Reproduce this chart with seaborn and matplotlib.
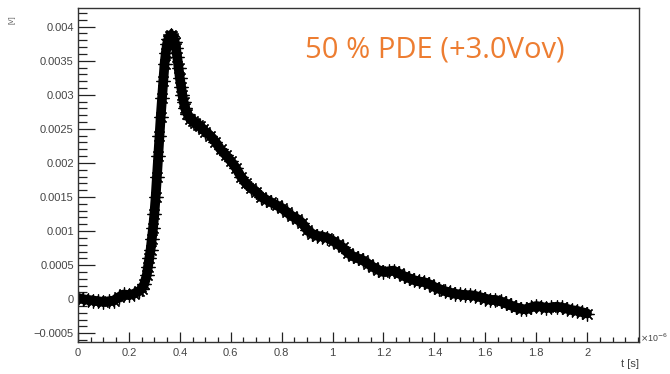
import numpy as np
import pandas as pd
import matplotlib
matplotlib.use("Agg")
import matplotlib.pyplot as plt
import seaborn as sns
from matplotlib.ticker import MultipleLocator

# waveform (time in units of 1e-6 s, amplitude)
t_us = [
    0.00, 0.02, 0.04, 0.06, 0.08, 0.10, 0.12, 0.14, 0.16, 0.18,
    0.20, 0.22, 0.24, 0.25, 0.26, 0.27, 0.275, 0.28, 0.285, 0.29,
    0.295, 0.30, 0.305, 0.31, 0.315, 0.32, 0.325, 0.33, 0.335, 0.34,
    0.345, 0.35, 0.355, 0.36, 0.365, 0.37, 0.375, 0.38, 0.385, 0.39,
    0.395, 0.40, 0.405, 0.41, 0.415, 0.42, 0.43, 0.44, 0.45, 0.46,
    0.47, 0.48, 0.49, 0.50, 0.52, 0.54, 0.56, 0.58, 0.60, 0.62,
    0.64, 0.66, 0.68, 0.70, 0.72, 0.74, 0.76, 0.78, 0.80, 0.82,
    0.84, 0.86, 0.88, 0.90, 0.92, 0.94, 0.96, 0.98, 1.00, 1.02,
    1.04, 1.06, 1.08, 1.10, 1.12, 1.14, 1.16, 1.18, 1.20, 1.22,
    1.24, 1.26, 1.28, 1.30, 1.32, 1.34, 1.36, 1.38, 1.40, 1.42,
    1.44, 1.46, 1.48, 1.50, 1.52, 1.54, 1.56, 1.58, 1.60, 1.62,
    1.64, 1.66, 1.68, 1.70, 1.72, 1.74, 1.76, 1.78, 1.80, 1.82,
    1.84, 1.86, 1.88, 1.90, 1.92, 1.94, 1.96, 1.98, 2.00,
]
amplitude = [
    0.00002, 0.00000, -0.00001, -0.00002, -0.00003, -0.00004, -0.00003, -0.00002, 0.00003, 0.00007,
    0.00006, 0.00008, 0.00012, 0.00015, 0.00022, 0.00035, 0.00048, 0.00060, 0.00072, 0.00088,
    0.00105, 0.00125, 0.00150, 0.00180, 0.00210, 0.00240, 0.00268, 0.00295, 0.00320, 0.00345,
    0.00362, 0.00375, 0.00382, 0.00386, 0.00388, 0.00387, 0.00384, 0.00378, 0.00368, 0.00355,
    0.00340, 0.00325, 0.00312, 0.00300, 0.00290, 0.00281, 0.00272, 0.00265, 0.00262, 0.00259,
    0.00256, 0.00254, 0.00250, 0.00246, 0.00240, 0.00231, 0.00220, 0.00212, 0.00203, 0.00193,
    0.00180, 0.00170, 0.00163, 0.00158, 0.00150, 0.00146, 0.00142, 0.00138, 0.00134, 0.00128,
    0.00122, 0.00118, 0.00112, 0.00102, 0.00096, 0.00093, 0.00092, 0.00090, 0.00086, 0.00081,
    0.00076, 0.00068, 0.00063, 0.00060, 0.00057, 0.00052, 0.00047, 0.00043, 0.00040, 0.00041,
    0.00042, 0.00038, 0.00034, 0.00031, 0.00028, 0.00026, 0.00025, 0.00022, 0.00018, 0.00015,
    0.00012, 0.00010, 0.00008, 0.00007, 0.00006, 0.00006, 0.00005, 0.00003, 0.00001, -0.00001,
    -0.00001, -0.00003, -0.00006, -0.00009, -0.00012, -0.00014, -0.00015, -0.00012, -0.00010, -0.00011,
    -0.00013, -0.00012, -0.00011, -0.00012, -0.00014, -0.00016, -0.00017, -0.00019, -0.00021,
]

x_major = [0, 0.2, 0.4, 0.6, 0.8, 1, 1.2, 1.4, 1.6, 1.8, 2]
x_labels = ["0", "0.2", "0.4", "0.6", "0.8", "1", "1.2", "1.4", "1.6", "1.8", "2"]
y_major = [-0.0005, 0, 0.0005, 0.001, 0.0015, 0.002, 0.0025, 0.003, 0.0035, 0.004]
y_labels = ["\u22120.0005", "0", "0.0005", "0.001", "0.0015", "0.002",
            "0.0025", "0.003", "0.0035", "0.004"]

df = pd.DataFrame({"t": t_us, "v": amplitude})

sns.set_style("white")
plt.rcParams["font.family"] = ["Liberation Sans", "DejaVu Sans"]

fig = plt.figure(figsize=(6.7, 3.74), dpi=100)
ax = fig.add_axes([78 / 670, 1 - 342 / 374, (639 - 78) / 670, (342 - 8) / 374])

sns.lineplot(data=df, x="t", y="v", ax=ax, color="black", linewidth=7,
             marker=(8, 2, 0), markersize=10, markeredgewidth=0.9,
             markeredgecolor="black", sort=False)

ax.set_xlim(0, 2.204)
ax.set_ylim(-0.000628, 0.004274)

ax.set_xticks(x_major)
ax.set_xticklabels(x_labels)
ax.set_yticks(y_major)
ax.set_yticklabels(y_labels)
ax.xaxis.set_minor_locator(MultipleLocator(0.05))
ax.yaxis.set_minor_locator(MultipleLocator(0.0001))

ax.tick_params(axis="both", which="both", direction="in", colors="#222222",
               labelcolor="#444444", labelsize=8, width=0.9,
               bottom=True, left=True, top=False, right=False)
ax.tick_params(axis="x", which="major", length=7.5, pad=4)
ax.tick_params(axis="x", which="minor", length=3.8)
ax.tick_params(axis="y", which="major", length=12.5, pad=3)
ax.tick_params(axis="y", which="minor", length=6.2)

for side in ["left", "bottom", "top", "right"]:
    ax.spines[side].set_visible(True)
    ax.spines[side].set_color("#333333")
    ax.spines[side].set_linewidth(1.0)

ax.set_xlabel("")
ax.set_ylabel("")

fig.text(639 / 670, 1 - 364 / 374, "t [s]", ha="right", va="center",
         fontsize=8, color="#444444")
fig.text(640 / 670, 1 - 338 / 374, r"$\times$10$^{-6}$", ha="left", va="center",
         fontsize=6.3, color="#444444")
fig.text(12 / 670, 1 - 20 / 374, "[V]", ha="center", va="center",
         rotation=90, fontsize=5, color="#555555")

fig.text(305 / 670, 1 - 50 / 374, "50 % PDE (+3.0Vov)", ha="left", va="center",
         fontsize=21, color="#ED7D31", family=["Open Sans", "DejaVu Sans"])

fig.savefig("out.png", dpi=100, facecolor="white")
